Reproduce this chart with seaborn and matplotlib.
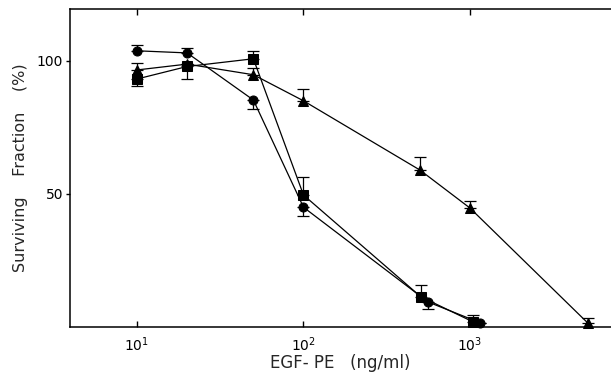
import numpy as np
import pandas as pd
import matplotlib
matplotlib.use("Agg")
import matplotlib.pyplot as plt
import seaborn as sns
from matplotlib.ticker import LogLocator, LogFormatterMathtext, NullLocator

sns.set_theme(style="ticks")
plt.rcParams['font.family'] = ['DejaVu Sans']

# values (EGF-PE dose, ng/ml; surviving fraction, %)
conc_circle = [10, 20, 50, 100, 560, 1150]
surv_circle = [103.8, 103.0, 85.3, 45.0, 9.4, 1.6]
circle_lo = [0, 0, 3.3, 3.4, 2.6, 0]
circle_hi = [2.2, 1.8, 0, 0, 0, 0]

conc_square = [10, 20, 50, 100, 506, 1037]
surv_square = [93.2, 97.9, 100.8, 49.6, 11.4, 2.0]
square_lo = [2.5, 4.8, 0, 0, 0, 0]
square_hi = [0, 0, 3.0, 6.8, 4.4, 2.5]

conc_tri = [10, 20, 50, 100, 500, 1000, 5100]
surv_tri = [96.6, 98.8, 94.8, 85.0, 59.0, 44.7, 1.5]
tri_lo = [0, 0, 0, 0, 0, 0, 0]
tri_hi = [2.6, 0, 2.6, 4.5, 4.9, 2.7, 1.8]

df = pd.concat([
    pd.DataFrame({'conc': conc_circle, 'surv': surv_circle, 'grp': 'circle'}),
    pd.DataFrame({'conc': conc_square, 'surv': surv_square, 'grp': 'square'}),
    pd.DataFrame({'conc': conc_tri, 'surv': surv_tri, 'grp': 'triangle'}),
], ignore_index=True)

fig = plt.figure(figsize=(6.11, 3.77), dpi=100)
ax = fig.add_axes([0.1146, 0.1326, 0.8854, 0.8435])

sns.lineplot(data=df, x='conc', y='surv', hue='grp', style='grp',
             markers={'circle': 'o', 'square': 's', 'triangle': '^'},
             dashes=False, palette=['black'] * 3, linewidth=0.9,
             markersize=6.5, markeredgecolor='black', legend=False,
             sort=False, ax=ax, clip_on=False)

for x, y, lo, hi in [(conc_circle, surv_circle, circle_lo, circle_hi),
                     (conc_square, surv_square, square_lo, square_hi),
                     (conc_tri, surv_tri, tri_lo, tri_hi)]:
    eb = ax.errorbar(x, y, yerr=[lo, hi], fmt='none', ecolor='black',
                     elinewidth=0.9, capsize=4, capthick=0.9)
    for art in eb.lines[1] + eb.lines[2]:
        art.set_clip_on(False)

ax.set_xscale('log')
ax.set_xlim(3.96, 7030)
ax.set_ylim(0, 119.5)
ax.xaxis.set_major_locator(LogLocator(base=10, numticks=10))
ax.xaxis.set_major_formatter(LogFormatterMathtext())
ax.xaxis.set_minor_locator(NullLocator())
ax.set_yticks([50, 100])
ax.tick_params(axis='x', direction='in', top=True, length=4, width=1,
               labelsize=10, colors='black', pad=6)
ax.tick_params(axis='y', direction='out', length=3, width=1, labelsize=10,
               colors='black', pad=2)
for s in ['left', 'bottom', 'top']:
    ax.spines[s].set_linewidth(1.1)
    ax.spines[s].set_color('black')
ax.spines['right'].set_visible(False)

ax.set_xlabel('EGF- PE   (ng/ml)', fontsize=12, labelpad=0)
ax.set_ylabel('Surviving    Fraction    (%)', fontsize=11.5, labelpad=6)

fig.savefig('out.png', dpi=100)
